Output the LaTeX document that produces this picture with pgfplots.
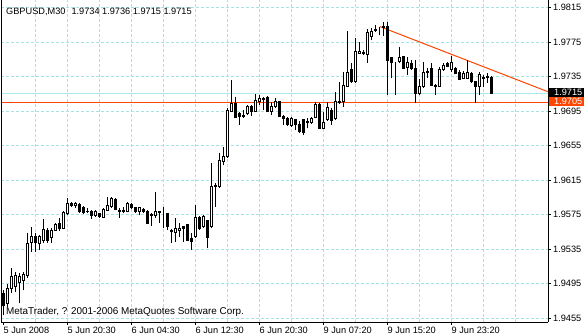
\documentclass[border=0pt]{standalone}
\usepackage{fontspec}
\setmainfont{Liberation Sans}
\usepackage{pgfplots}
\usepackage{pgfplotstable}
\pgfplotsset{compat=1.18}
\definecolor{gridc}{HTML}{A4E4E4}
\definecolor{bidc}{HTML}{A8ECEC}
\definecolor{ored}{HTML}{FF4500}

\pgfplotstableread{
i O H L C
0 1.9484 1.9487 1.9458 1.9470
1 1.9472 1.9494 1.9468 1.9489
2 1.9489 1.9513 1.9484 1.9503
3 1.9491 1.9508 1.9485 1.9504
4 1.9496 1.9507 1.9472 1.9503
5 1.9499 1.9508 1.9487 1.9505
6 1.9504 1.9554 1.9502 1.9542
7 1.9543 1.9561 1.9532 1.9549
8 1.9549 1.9554 1.9532 1.9543
9 1.9542 1.9551 1.9534 1.9549
10 1.9545 1.9570 1.9542 1.9558
11 1.9557 1.9559 1.9542 1.9545
12 1.9548 1.9559 1.9542 1.9557
13 1.9557 1.9565 1.9556 1.9564
14 1.9565 1.9571 1.9556 1.9559
15 1.9559 1.9579 1.9558 1.9577
16 1.9576 1.9594 1.9574 1.9588
17 1.9588 1.9590 1.9584 1.9586
18 1.9585 1.9590 1.9583 1.9588
19 1.9587 1.9588 1.9577 1.9578
20 1.9583 1.9585 1.9576 1.9577
21 1.9579 1.9583 1.9577 1.9578
22 1.9579 1.9580 1.9570 1.9574
23 1.9574 1.9580 1.9572 1.9578
24 1.9576 1.9577 1.9571 1.9573
25 1.9572 1.9583 1.9571 1.9581
26 1.9580 1.9595 1.9579 1.9585
27 1.9584 1.9595 1.9583 1.9594
28 1.9593 1.9594 1.9580 1.9581
29 1.9580 1.9583 1.9571 1.9579
30 1.9579 1.9584 1.9577 1.9580
31 1.9579 1.9590 1.9578 1.9588
32 1.9587 1.9588 1.9581 1.9583
33 1.9583 1.9584 1.9577 1.9579
34 1.9578 1.9584 1.9574 1.9583
35 1.9581 1.9583 1.9577 1.9579
36 1.9579 1.9580 1.9564 1.9565
37 1.9575 1.9577 1.9562 1.9574
38 1.9574 1.9601 1.9571 1.9578
39 1.9578 1.9578 1.9565 1.9577
40 1.9577 1.9584 1.9559 1.9577
41 1.9576 1.9577 1.9557 1.9561
42 1.9557 1.9558 1.9542 1.9555
43 1.9554 1.9571 1.9543 1.9559
44 1.9557 1.9565 1.9549 1.9559
45 1.9561 1.9562 1.9543 1.9559
46 1.9563 1.9564 1.9544 1.9545
47 1.9547 1.9554 1.9534 1.9544
48 1.9549 1.9586 1.9548 1.9572
49 1.9572 1.9573 1.9557 1.9559
50 1.9561 1.9574 1.9559 1.9573
51 1.9568 1.9569 1.9536 1.9548
52 1.9561 1.9635 1.9559 1.9607
53 1.9609 1.9612 1.9584 1.9607
54 1.9607 1.9646 1.9606 1.9638
55 1.9636 1.9653 1.9632 1.9642
56 1.9642 1.9699 1.9641 1.9696
57 1.9695 1.9731 1.9694 1.9704
58 1.9704 1.9711 1.9687 1.9688
59 1.9692 1.9694 1.9679 1.9689
60 1.9690 1.9696 1.9687 1.9689
61 1.9692 1.9702 1.9690 1.9700
62 1.9700 1.9702 1.9689 1.9694
63 1.9695 1.9715 1.9694 1.9707
64 1.9706 1.9714 1.9702 1.9710
65 1.9710 1.9711 1.9696 1.9709
66 1.9711 1.9713 1.9694 1.9695
67 1.9695 1.9706 1.9690 1.9700
68 1.9700 1.9710 1.9699 1.9706
69 1.9706 1.9707 1.9688 1.9689
70 1.9689 1.9690 1.9679 1.9686
71 1.9687 1.9688 1.9678 1.9679
72 1.9678 1.9688 1.9677 1.9687
73 1.9685 1.9686 1.9673 1.9679
74 1.9680 1.9684 1.9670 1.9671
75 1.9685 1.9686 1.9667 1.9670
76 1.9682 1.9687 1.9675 1.9683
77 1.9682 1.9688 1.9680 1.9687
78 1.9688 1.9706 1.9687 1.9703
79 1.9703 1.9704 1.9674 1.9675
80 1.9675 1.9694 1.9674 1.9682
81 1.9685 1.9706 1.9684 1.9699
82 1.9696 1.9699 1.9679 1.9684
83 1.9686 1.9717 1.9685 1.9706
84 1.9706 1.9729 1.9703 1.9705
85 1.9706 1.9740 1.9700 1.9725
86 1.9724 1.9788 1.9723 1.9740
87 1.9743 1.9751 1.9728 1.9729
88 1.9729 1.9780 1.9728 1.9764
89 1.9762 1.9775 1.9761 1.9764
90 1.9763 1.9766 1.9760 1.9762
91 1.9761 1.9790 1.9751 1.9786
92 1.9782 1.9791 1.9777 1.9787
93 1.9788 1.9795 1.9787 1.9790
94 1.9791 1.9793 1.9783 1.9791
95 1.9792 1.9798 1.9782 1.9793
96 1.9793 1.9798 1.9714 1.9754
97 1.9757 1.9758 1.9733 1.9751
98 1.9751 1.9752 1.9714 1.9751
99 1.9752 1.9769 1.9751 1.9757
100 1.9758 1.9759 1.9745 1.9745
101 1.9746 1.9758 1.9737 1.9751
102 1.9750 1.9754 1.9743 1.9744
103 1.9744 1.9754 1.9704 1.9715
104 1.9715 1.9732 1.9714 1.9723
105 1.9723 1.9752 1.9722 1.9740
106 1.9740 1.9745 1.9733 1.9741
107 1.9745 1.9751 1.9724 1.9725
108 1.9725 1.9726 1.9714 1.9724
109 1.9724 1.9746 1.9723 1.9743
110 1.9743 1.9751 1.9741 1.9748
111 1.9750 1.9752 1.9746 1.9747
112 1.9743 1.9759 1.9740 1.9751
113 1.9745 1.9746 1.9738 1.9739
114 1.9740 1.9743 1.9731 1.9732
115 1.9733 1.9742 1.9732 1.9739
116 1.9733 1.9754 1.9732 1.9740
117 1.9739 1.9740 1.9728 1.9729
118 1.9729 1.9730 1.9704 1.9723
119 1.9723 1.9740 1.9714 1.9737
120 1.9733 1.9737 1.9723 1.9734
121 1.9735 1.9739 1.9728 1.9734
122 1.9734 1.9736 1.9715 1.9715
}\candles

\begin{document}
\begin{tikzpicture}
\pgfplotsset{mt/.style={scale only axis, width=547bp, height=322bp,
  at={(1bp,14bp)}, anchor=south west, xmin=-0.5, xmax=136.25, enlargelimits=false}}

\begin{axis}[mt, ymin=1.94504, ymax=1.98239,
  axis x line*=bottom, axis y line*=right,
  axis line style={line width=1bp, black},
  xtick={0,16,32,48,64,80,96,112},
  xticklabels={5 Jun 2008,5 Jun 20:30,6 Jun 04:30,6 Jun 12:30,6 Jun 20:30,9 Jun 07:20,9 Jun 15:20,9 Jun 23:20},
  minor xtick={8,16,24,32,40,48,56,64,72,80,88,96,104,112,120,128},
  xminorgrids=true, minor tick length=0pt,
  ytick={1.9455,1.9495,1.9535,1.9575,1.9615,1.9655,1.9695,1.9735,1.9775,1.9815},
  ymajorgrids=true,
  major grid style={gridc, line width=1bp, dash pattern=on 3bp off 2bp},
  minor grid style={gridc, line width=1bp, dash pattern=on 3bp off 2bp},
  tick align=outside, major tick length=3bp,
  every tick/.style={black, line width=1bp},
  tick label style={font=\fontsize{9.2bp}{10bp}\selectfont, black},
  scaled y ticks=false,
  yticklabel={\pgfmathprintnumber[fixed,fixed zerofill,precision=4,assume math mode=true]{\tick}},
  xticklabel style={anchor=north west, inner sep=0pt, xshift=0.5bp, yshift=-2bp},
  yticklabel style={anchor=west, inner sep=0pt, xshift=2bp},
]
\addplot[bidc, line width=1bp] coordinates {(-0.5,1.9715) (136.25,1.9715)};
\addplot[ored, line width=1bp] coordinates {(-0.5,1.9705) (136.25,1.9705)};
\addplot[ored, line width=1bp] coordinates {(94.25,1.9793) (136.25,1.97175)};
\addplot[black, line width=1bp, quiver={u=0, v=\thisrow{H}-\thisrow{L}}] table[x=i, y=L] {\candles};
\draw[line width=1bp, black] (rel axis cs:0,0) -- (rel axis cs:0,1);
\end{axis}

\begin{axis}[mt, ymin=0.00504, ymax=0.04239, hide axis, ybar stacked, bar width=2bp]
\addplot[draw=none, fill=none] table[x=i, y expr={min(\thisrow{O},\thisrow{C})-1.94}] {\candles};
\addplot[draw=black, fill=white, line width=1bp] table[x=i, y expr={max(\thisrow{C}-\thisrow{O},0)}] {\candles};
\addplot[draw=black, fill=black, line width=1bp] table[x=i, y expr={max(\thisrow{O}-\thisrow{C},0)}] {\candles};
\end{axis}

\node[anchor=base west, inner sep=0pt, font=\fontsize{9.2bp}{10bp}\selectfont] at (6bp,321.5bp) {GBPUSD,M30\hspace{6bp}1.9734 1.9736 1.9715 1.9715};
\node[anchor=base west, inner sep=0pt, font=\fontsize{9.9bp}{11bp}\selectfont] at (6bp,22bp) {MetaTrader, ? 2001-2006 MetaQuotes Software Corp.};

\fill[black] (549bp,239.3bp) rectangle (584bp,247.7bp);
\node[anchor=west, inner sep=0pt, text=white, font=\fontsize{9.2bp}{10bp}\selectfont] at (554bp,243.5bp) {1.9715};
\fill[ored] (549bp,230bp) rectangle (584bp,239.3bp);
\node[anchor=west, inner sep=0pt, text=white, font=\fontsize{9.2bp}{10bp}\selectfont] at (554bp,234.6bp) {1.9705};

\pgfresetboundingbox
\path[use as bounding box] (0,0) rectangle (584bp,336bp);
\end{tikzpicture}
\end{document}
